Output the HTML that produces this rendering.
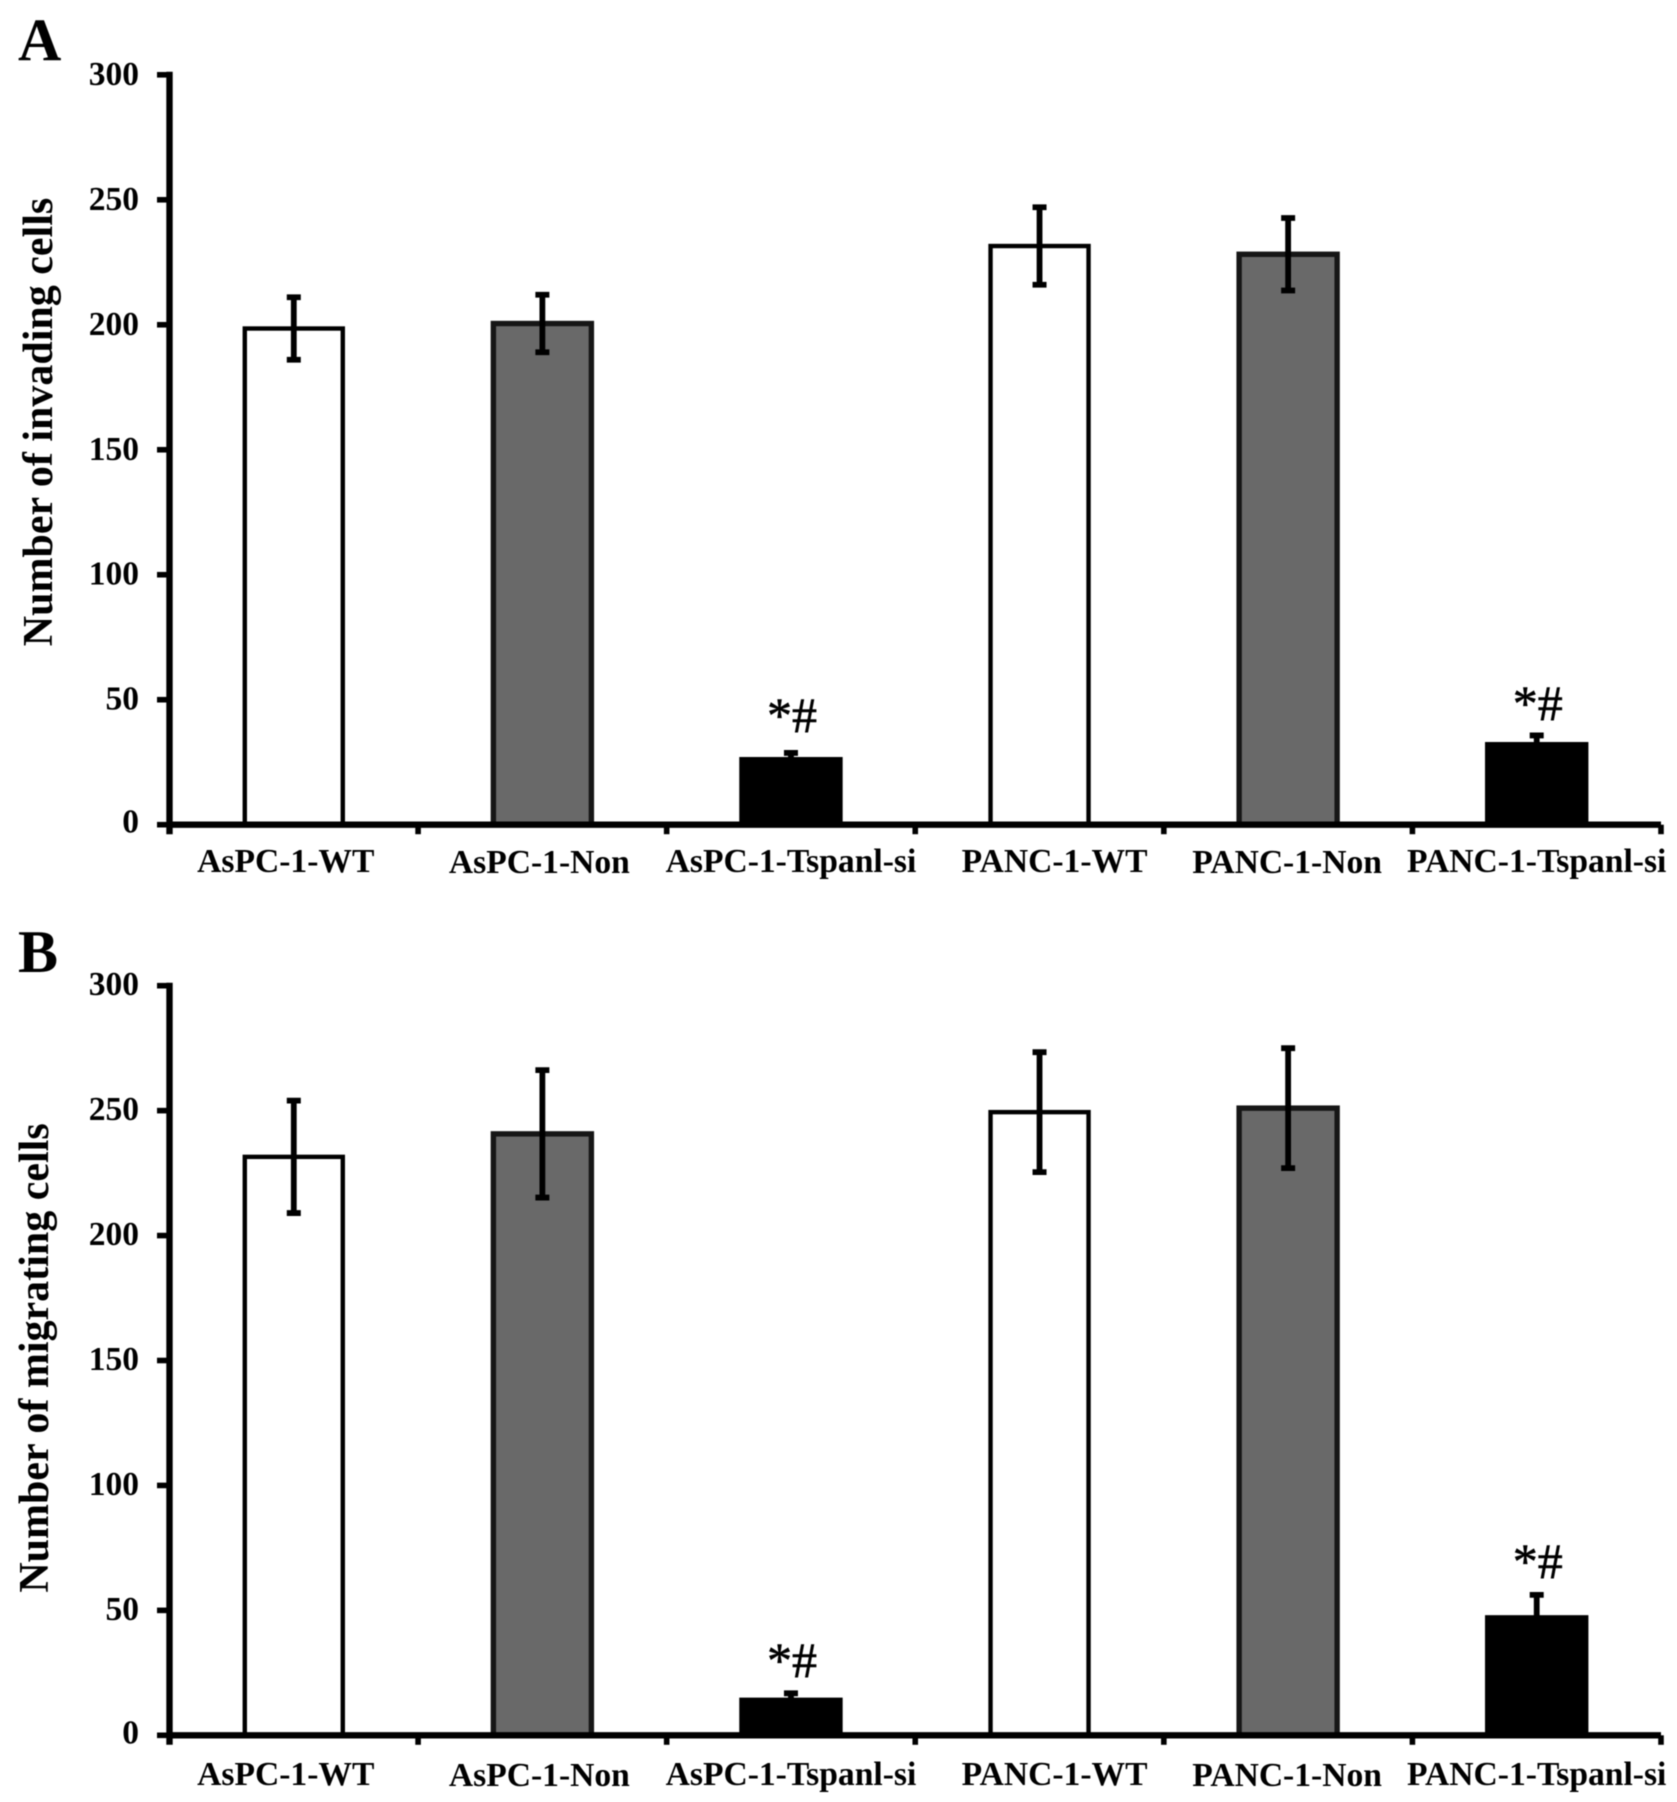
<!DOCTYPE html>
<html lang="en">
<head>
<meta charset="utf-8">
<title>Invading and migrating cell counts</title>
<style>
html,body{margin:0;padding:0;background:#fff;width:1677px;height:1802px;overflow:hidden}
svg{display:block;filter:blur(.45px)}
text{font-family:"Liberation Serif",serif;fill:#000}
.b{font-weight:bold}
</style>
</head>
<body>
<svg id="figure" xmlns="http://www.w3.org/2000/svg" width="1677" height="1802" viewBox="0 0 1677 1802"></svg>
<script>
const categories = ["AsPC-1-WT","AsPC-1-Non","AsPC-1-Tspanl-si","PANC-1-WT","PANC-1-Non","PANC-1-Tspanl-si"];
const yTicks = [0,50,100,150,200,250,300];
const invadingValues = [198.5,200.5,26,231.5,228.2,32];
const invadingErrors = [12.5,11.5,2.7,15.5,14.5,3.7];
const invadingMarkers = [null,null,"*#",null,null,"*#"];
const invadingMarkerLevels = [null,null,37,null,null,41.8];
const migratingValues = [231.5,240.7,14,249.4,251,47];
const migratingErrors = [22.5,25.5,2.8,24,24,9.2];
const migratingMarkers = [null,null,"*#",null,null,"*#"];
const migratingMarkerLevels = [null,null,23.3,null,null,63];
const barFills = ["#ffffff","#696969","#000000","#ffffff","#696969","#000000"];

const NS = "http://www.w3.org/2000/svg";
const svg = document.getElementById("figure");

function make(parent, tag, attrs, text){
  const el = document.createElementNS(NS, tag);
  for (const k in attrs) el.setAttribute(k, attrs[k]);
  if (text !== undefined) el.textContent = text;
  parent.appendChild(el);
  return el;
}

function drawPanel(p){
  const g = make(svg, "g", {});
  
  
  const x0 = 169.5, x1 = 1661;
  const step = (x1 - x0) / categories.length;
  const yMax = yTicks[yTicks.length - 1];
  const yScale = v => p.y0 - (v / yMax) * (p.y0 - p.y300);
  const xCenter = i => x0 + step * (i + 0.5);
  const labelShift = [-8,-3,0,15,-1,0];

  const letter = make(g, "text", {x:p.letterX, y:p.letterY, "font-size":60, "class":"b"}, p.letter);
  
  

  const title = make(g, "text", {
    transform:"translate(" + p.titleX + "," + p.titleY + ") rotate(-90)",
    "text-anchor":"middle", "font-size":42, "class":"b"
  }, p.title);
  
  

  categories.forEach((c, i) => {
    const strokeW = i === 0 || i === 3 ? 4.4 : 5.4;
    const half = 49;
    const left = xCenter(i) - half;
    const top = yScale(p.values[i]);
    const bar = make(g, "rect", {
      x:left, y:top, width:half * 2, height:p.y0 - top,
      fill:barFills[i], stroke:i === 1 || i === 4 ? "#161616" : "#000", "stroke-width":strokeW
    });
    
    

    const hi = yScale(p.values[i] + p.errors[i]);
    const lo = yScale(p.values[i] - p.errors[i]);
    const cx = xCenter(i);
    const err = make(g, "path", {
      d:"M" + cx + " " + hi + "V" + lo + "M" + (cx - 7) + " " + hi + "H" + (cx + 7) + "M" + (cx - 7) + " " + lo + "H" + (cx + 7),
      stroke:"#000", "stroke-width":5.8, fill:"none"
    });
    
    

    const label = make(g, "text", {
      x:cx + labelShift[i], y:p.labelY + (i === 1 || i === 4 ? 1 : 0),
      "text-anchor":"middle", "font-size":33.6, "class":"b"
    }, c);
    
    

    if (p.markers[i]){
      const mark = make(g, "text", {
        x:cx + 1, y:yScale(p.markerLevels[i]),
        "text-anchor":"middle", "font-size":50, stroke:"#000", "stroke-width":0.6
      }, p.markers[i]);
      
      
    }
  });

  const yAxis = make(g, "line", {x1:x0, x2:x0, y1:yScale(yMax) - 3, y2:p.y0 + 9.5, stroke:"#000", "stroke-width":6.4});
  
  
  const xAxis = make(g, "line", {x1:x0, x2:x1, y1:p.y0, y2:p.y0, stroke:"#000", "stroke-width":6.4});
  
  

  yTicks.forEach(t => {
    const y = yScale(t);
    const tick = make(g, "line", {x1:157, x2:x0, y1:y, y2:y, stroke:"#000", "stroke-width":5.6});
    
    
    const lab = make(g, "text", {x:139, y:y + (t === 0 ? 8 : p.tickLabelDrop), "text-anchor":"end", "font-size":33.5, "class":"b"}, String(t));
    
    
  });

  for (let i = 1; i <= categories.length; i++){
    const x = x0 + step * i;
    const tick = make(g, "line", {x1:x, x2:x, y1:p.y0, y2:p.y0 + 9.5, stroke:"#000", "stroke-width":5.6});
    
    
  }
}

drawPanel({
  id:"invading", letter:"A", letterX:18, letterY:60,
  title:"Number of invading cells", titleX:52, titleY:422,
  y0:824.7, y300:74.8, labelY:872, tickLabelDrop:10,
  values:invadingValues, errors:invadingErrors,
  markers:invadingMarkers, markerLevels:invadingMarkerLevels
});
drawPanel({
  id:"migrating", letter:"B", letterX:18, letterY:972,
  title:"Number of migrating cells", titleX:48, titleY:1358,
  y0:1735.3, y300:985.7, labelY:1785, tickLabelDrop:9.5,
  values:migratingValues, errors:migratingErrors,
  markers:migratingMarkers, markerLevels:migratingMarkerLevels
});
</script>
</body>
</html>
